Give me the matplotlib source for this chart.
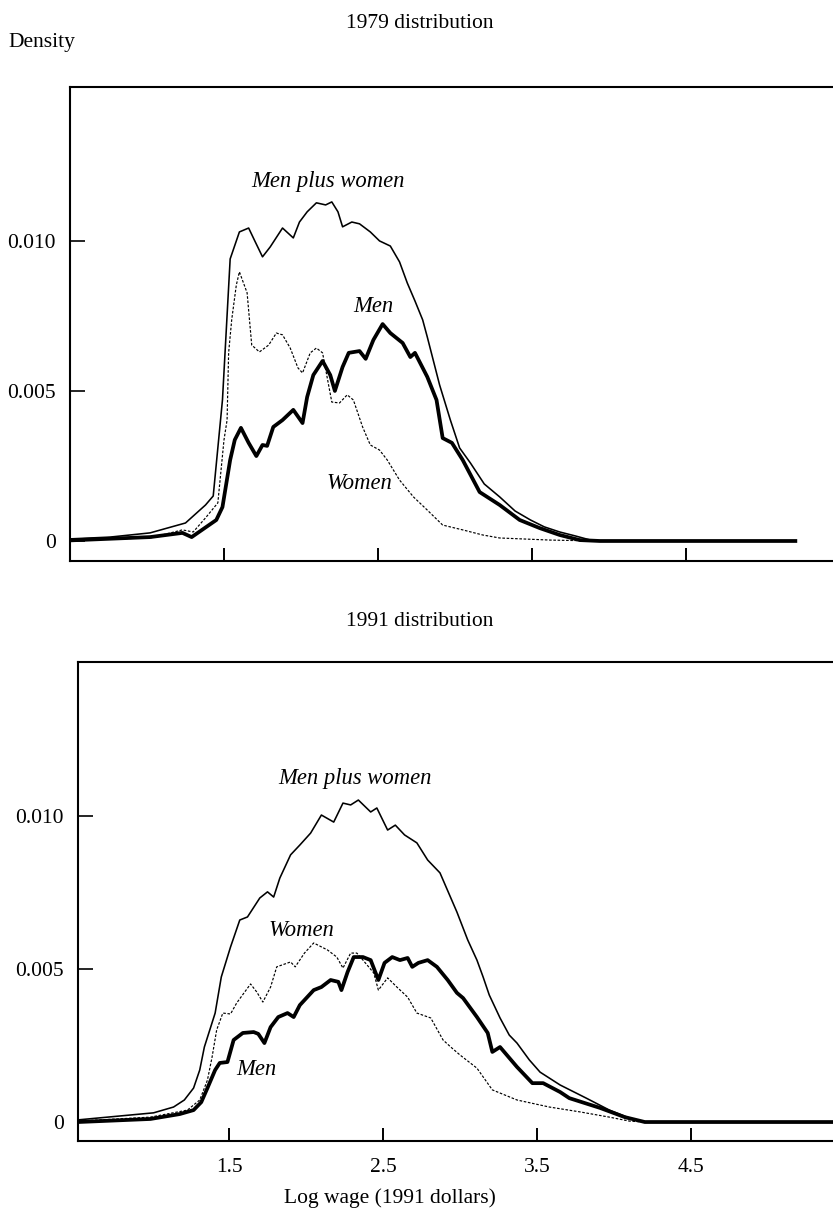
import matplotlib
matplotlib.use("Agg")
import matplotlib.pyplot as plt

plt.rcParams['font.family'] = ['Liberation Serif', 'DejaVu Serif']
plt.rcParams['mathtext.fontset'] = 'stix'

# ---------------- 1979 data (density, x in log wage) ----------------
x79_all = [0.50, 0.76, 1.02, 1.25, 1.38, 1.43, 1.49, 1.54, 1.60, 1.66, 1.70, 1.75, 1.80, 1.88,
           1.95, 1.99, 2.04, 2.10, 2.16, 2.20, 2.24, 2.27, 2.33, 2.38, 2.45, 2.51, 2.58, 2.64,
           2.69, 2.74, 2.79, 2.82, 2.90, 2.97, 3.03, 3.10, 3.19, 3.29, 3.39, 3.49, 3.58, 3.68,
           3.78, 3.88, 3.94, 5.21]
y79_all = [0.07, 0.13, 0.27, 0.60, 1.20, 1.50, 4.70, 9.40, 10.30, 10.43, 10.00, 9.47, 9.80, 10.43,
           10.10, 10.63, 10.97, 11.27, 11.20, 11.30, 10.97, 10.47, 10.63, 10.57, 10.30, 10.00, 9.83, 9.30,
           8.60, 8.00, 7.37, 6.80, 5.20, 4.03, 3.10, 2.60, 1.90, 1.47, 1.00, 0.70, 0.47, 0.30,
           0.17, 0.03, 0.0, 0.0]

x79_men = [0.50, 1.02, 1.23, 1.29, 1.45, 1.49, 1.54, 1.57, 1.61, 1.66, 1.71, 1.75, 1.78, 1.82,
           1.88, 1.95, 2.01, 2.04, 2.08, 2.14, 2.19, 2.22, 2.27, 2.31, 2.38, 2.42, 2.47, 2.53,
           2.58, 2.66, 2.71, 2.74, 2.82, 2.88, 2.92, 2.98, 3.05, 3.16, 3.29, 3.42, 3.55, 3.68,
           3.81, 3.94, 5.21]
y79_men = [0.02, 0.13, 0.27, 0.13, 0.70, 1.13, 2.70, 3.37, 3.77, 3.27, 2.83, 3.20, 3.17, 3.80,
           4.03, 4.37, 3.93, 4.80, 5.53, 6.00, 5.53, 5.00, 5.80, 6.27, 6.33, 6.07, 6.70, 7.23,
           6.93, 6.60, 6.13, 6.27, 5.47, 4.70, 3.43, 3.27, 2.70, 1.63, 1.20, 0.70, 0.43, 0.20,
           0.03, 0.0, 0.0]

x79_women = [0.50, 1.02, 1.23, 1.30, 1.38, 1.46, 1.50, 1.52, 1.53, 1.55, 1.58, 1.60, 1.65, 1.68,
             1.73, 1.79, 1.84, 1.88, 1.93, 1.98, 2.01, 2.06, 2.10, 2.14, 2.20, 2.25, 2.30, 2.34,
             2.40, 2.45, 2.51, 2.56, 2.64, 2.73, 2.82, 2.92, 3.05, 3.18, 3.29, 3.62, 3.94, 5.21]
y79_women = [0.03, 0.10, 0.37, 0.30, 0.77, 1.27, 3.37, 4.03, 6.27, 7.37, 8.53, 8.97, 8.27, 6.53,
             6.30, 6.53, 6.93, 6.87, 6.43, 5.77, 5.60, 6.27, 6.43, 6.27, 4.63, 4.60, 4.87, 4.70,
             3.80, 3.20, 3.03, 2.70, 2.03, 1.47, 1.03, 0.53, 0.37, 0.20, 0.10, 0.03, 0.0, 0.0]

# ---------------- 1991 data ----------------
x91_all = [0.52, 1.01, 1.14, 1.21, 1.27, 1.31, 1.34, 1.41, 1.45, 1.51, 1.57, 1.62, 1.70, 1.75,
           1.79, 1.83, 1.90, 1.96, 2.03, 2.10, 2.18, 2.24, 2.29, 2.34, 2.42, 2.46, 2.53, 2.58,
           2.64, 2.72, 2.79, 2.87, 2.98, 3.05, 3.11, 3.15, 3.19, 3.26, 3.32, 3.37, 3.45, 3.52,
           3.65, 3.82, 3.97, 4.10, 4.20, 5.42]
y91_all = [0.07, 0.30, 0.49, 0.72, 1.11, 1.70, 2.45, 3.56, 4.74, 5.72, 6.60, 6.70, 7.32, 7.52,
           7.35, 7.97, 8.73, 9.05, 9.44, 10.03, 9.80, 10.42, 10.36, 10.52, 10.13, 10.26, 9.54, 9.70,
           9.38, 9.12, 8.56, 8.14, 6.86, 5.95, 5.29, 4.74, 4.15, 3.40, 2.84, 2.58, 2.03, 1.63,
           1.21, 0.78, 0.39, 0.13, 0.0, 0.0]

x91_men = [0.52, 0.99, 1.18, 1.27, 1.32, 1.36, 1.41, 1.44, 1.49, 1.53, 1.59, 1.66, 1.69, 1.73,
           1.77, 1.82, 1.88, 1.92, 1.96, 2.05, 2.10, 2.16, 2.21, 2.23, 2.27, 2.31, 2.37, 2.42,
           2.47, 2.51, 2.56, 2.61, 2.66, 2.69, 2.73, 2.79, 2.85, 2.92, 2.98, 3.02, 3.11, 3.18,
           3.21, 3.26, 3.37, 3.47, 3.54, 3.65, 3.71, 3.91, 4.07, 4.20, 5.42]
y91_men = [0.0, 0.10, 0.26, 0.39, 0.65, 1.11, 1.70, 1.93, 1.96, 2.68, 2.91, 2.94, 2.88, 2.58,
           3.10, 3.43, 3.56, 3.43, 3.82, 4.31, 4.41, 4.64, 4.58, 4.31, 4.90, 5.39, 5.39, 5.29,
           4.64, 5.20, 5.39, 5.29, 5.36, 5.07, 5.20, 5.29, 5.07, 4.64, 4.22, 4.05, 3.43, 2.91,
           2.29, 2.45, 1.80, 1.27, 1.27, 0.98, 0.78, 0.46, 0.16, 0.0, 0.0]

x91_women = [0.52, 0.99, 1.23, 1.31, 1.36, 1.39, 1.42, 1.46, 1.51, 1.55, 1.64, 1.68, 1.72, 1.77,
             1.81, 1.90, 1.93, 1.99, 2.05, 2.14, 2.20, 2.24, 2.29, 2.33, 2.37, 2.44, 2.47, 2.53,
             2.59, 2.66, 2.72, 2.81, 2.89, 2.94, 3.00, 3.11, 3.21, 3.37, 3.58, 3.78, 3.97, 4.10,
             4.20, 5.42]
y91_women = [0.03, 0.16, 0.39, 0.72, 1.37, 2.12, 3.01, 3.56, 3.53, 3.89, 4.51, 4.25, 3.92, 4.41,
             5.07, 5.23, 5.07, 5.52, 5.85, 5.62, 5.39, 5.03, 5.52, 5.52, 5.29, 4.87, 4.31, 4.71,
             4.41, 4.08, 3.56, 3.40, 2.68, 2.45, 2.19, 1.76, 1.05, 0.72, 0.49, 0.33, 0.16, 0.03,
             0.0, 0.0]

xticks = [1.5, 2.5, 3.5, 4.5]
xticklabels = ['1.5', '2.5', '3.5', '4.5']
yticks = [0.0, 0.005, 0.010]
yticklabels = ['0', '0.005', '0.010']

FS = 15.5
FS_LAB = 16.3
W, H = 833, 1211
fig = plt.figure(figsize=(W / 100, H / 100), dpi=100)


def px_axes(left, top, bottom):
    return fig.add_axes([left / W, 1 - bottom / H, 1 - left / W, (bottom - top) / H])


def style(ax, xlim, ylim, show_xlabels):
    ax.set_xlim(*xlim)
    ax.set_ylim(*ylim)
    ax.spines['right'].set_visible(False)
    for s in ('left', 'bottom', 'top'):
        ax.spines[s].set_linewidth(1.5)
    ax.set_xticks(xticks)
    ax.set_xticklabels(xticklabels if show_xlabels else [])
    ax.set_yticks(yticks)
    ax.set_yticklabels(yticklabels)
    ax.tick_params(axis='x', direction='in', length=9.5, width=1.4, labelsize=FS, pad=12)
    ax.tick_params(axis='y', direction='in', length=11, width=1.2, labelsize=FS, pad=10)


def draw(ax, xa, ya, xm, ym, xw, yw):
    ax.plot(xa, [v / 1000 for v in ya], color='black', lw=1.15, solid_joinstyle='round')
    ax.plot(xm, [v / 1000 for v in ym], color='black', lw=2.7, solid_joinstyle='round')
    ax.plot(xw, [v / 1000 for v in yw], color='black', lw=0.85, linestyle=(0, (2.2, 1.4)))


# top panel
ax1 = px_axes(70, 87, 561)
draw(ax1, x79_all, y79_all, x79_men, y79_men, x79_women, y79_women)
style(ax1, (0.5, 0.5 + 763 / 154), (-0.000667, 0.01513), False)
kw = dict(fontsize=FS_LAB, style='italic', ha='center', va='center')
ax1.text(2.175, 0.01197, 'Men plus women', **kw)
ax1.text(2.47, 0.0078, 'Men', **kw)
ax1.text(2.38, 0.00193, 'Women', **kw)

# bottom panel
ax2 = px_axes(78, 662, 1141)
draw(ax2, x91_all, y91_all, x91_men, y91_men, x91_women, y91_women)
style(ax2, (1.5 - 151 / 154, 1.5 + 604 / 154), (-0.00062, 0.01503), True)
ax2.text(2.32, 0.01124, 'Men plus women', **kw)
ax2.text(1.97, 0.00627, 'Women', **kw)
ax2.text(1.68, 0.0017, 'Men', **kw)

fig.text(420 / W, 1 - 23 / H, '1979 distribution', fontsize=FS, ha='center', va='center')
fig.text(420 / W, 1 - 622 / H, '1991 distribution', fontsize=FS, ha='center', va='center')
fig.text(8 / W, 1 - 43 / H, 'Density', fontsize=FS, ha='left', va='center')
fig.text(390 / W, 1 - 1198 / H, 'Log wage (1991 dollars)', fontsize=FS, ha='center', va='center')

fig.savefig('out.png', dpi=100, facecolor='white')
